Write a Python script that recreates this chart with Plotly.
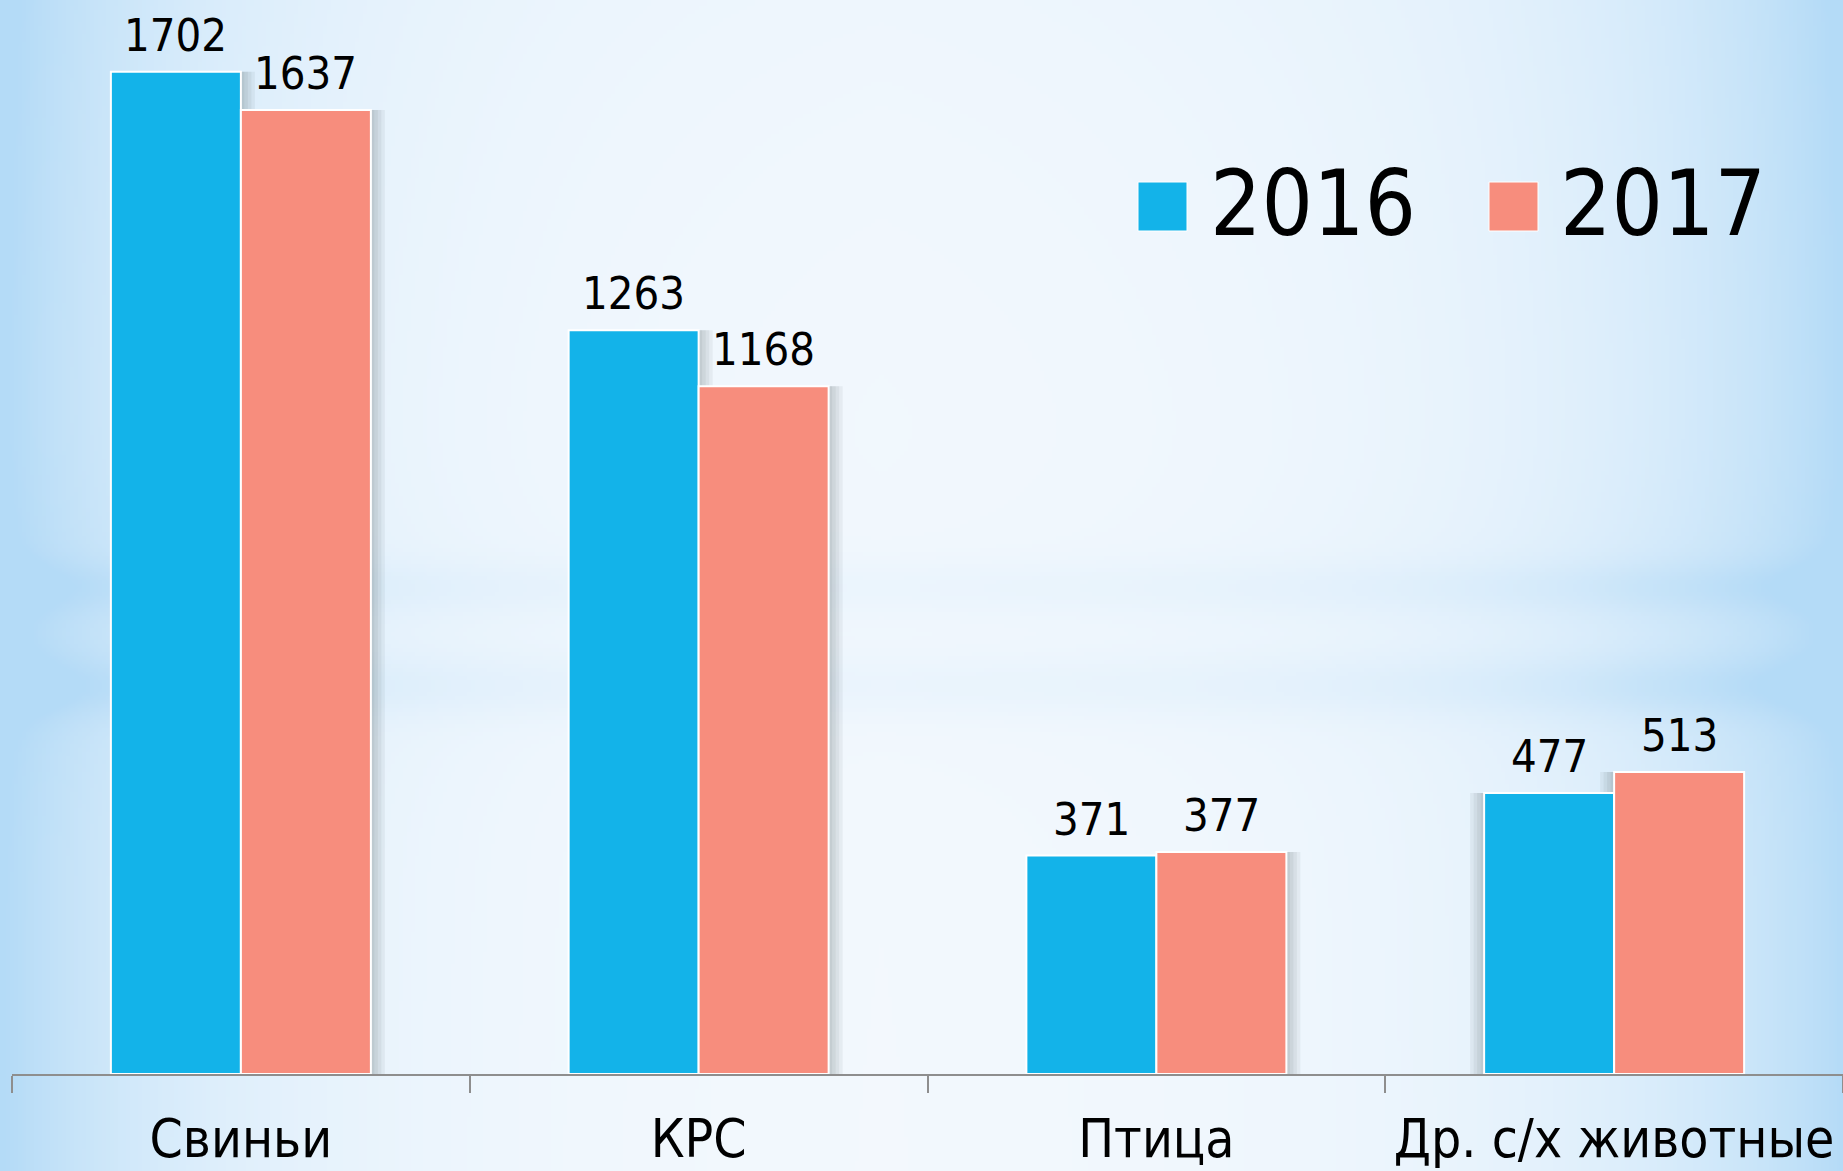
import base64
import struct
import zlib

import numpy as np
import plotly.graph_objects as go

# ---------------- data ----------------
categories = ["Свиньи", "КРС", "Птица", "Др. с/х животные"]
years = ["2016", "2017"]
values_2016 = [1702, 1263, 371, 477]
values_2017 = [1637, 1168, 377, 513]

# ---------------- style ----------------
W, H = 1843, 1171
ML, MR, MT, MB = 12, 0, 0, 97
PW, PH = W - ML - MR, H - MT - MB
CAT_PX = PW / 4.0
BLUE = "#13B3E9"
RED = "#F78D7D"
FONT = "Liberation Sans Narrow, Arial Narrow, DejaVu Sans Condensed, sans-serif"
BAR_PX = 130
BAR_W = BAR_PX / CAT_PX


def png_bytes(arr):
    h, w, _ = arr.shape
    raw = b"".join(b"\x00" + arr[r].tobytes() for r in range(h))

    def chunk(t, d):
        c = struct.pack(">I", len(d)) + t + d
        return c + struct.pack(">I", zlib.crc32(t + d) & 0xFFFFFFFF)

    return (b"\x89PNG\r\n\x1a\n"
            + chunk(b"IHDR", struct.pack(">IIBBBBB", w, h, 8, 2, 0, 0, 0))
            + chunk(b"IDAT", zlib.compress(raw, 9))
            + chunk(b"IEND", b""))


def background():
    s = 4
    w, h = W // s, H // s
    X = (np.arange(w) * s)[None, :].astype(float)
    Y = (np.arange(h) * s)[:, None].astype(float)
    hx = np.maximum(np.exp(-X / 200.0), np.exp(-(W - X) / 220.0))
    hx = hx + 0.07 * np.exp(-Y / 300.0) * np.ones_like(X)
    band = (0.20 * np.exp(-((Y - 583) / 26.0) ** 2)
            + 0.24 * np.exp(-((Y - 683) / 30.0) ** 2)
            + 0.09 * np.exp(-((Y - 630) / 120.0) ** 2))
    band = band * (0.35 + 0.65 * np.minimum(1, hx * 2.5))
    t = np.clip(hx + band, 0, 1)
    white = np.array([244, 249, 254], float)
    blue = np.array([180, 219, 247], float)
    img = white[None, None, :] + (blue - white)[None, None, :] * t[:, :, None]
    return np.clip(img, 0, 255).astype(np.uint8)


bg_uri = "data:image/png;base64," + base64.b64encode(png_bytes(background())).decode()

fig = go.Figure()

# soft shadows (drawn behind bars)
shadow_dir = [1, 1, 1, -1]
for vals, off0 in ((values_2016, -BAR_W), (values_2017, 0.0)):
    for k in range(1, 5):
        dx = k * 3.5 / CAT_PX
        fig.add_trace(go.Bar(
            x=categories, y=vals,
            offset=[off0 + d * dx for d in shadow_dir], width=BAR_W,
            marker=dict(color="rgba(70,80,90,0.07)", line=dict(width=0)),
            hoverinfo="skip", showlegend=False,
        ))

annotations = []
for name, vals, col, off, shift in ((years[0], values_2016, BLUE, -BAR_W, -BAR_PX / 2),
                                    (years[1], values_2017, RED, 0.0, BAR_PX / 2)):
    fig.add_trace(go.Bar(
        name=name, x=categories, y=vals,
        offset=off, width=BAR_W,
        marker=dict(color=col, line=dict(color="white", width=2)),
        cliponaxis=False, showlegend=False,
    ))
    for c, v in zip(categories, vals):
        annotations.append(dict(
            x=c, y=v, xref="x", yref="y", text=str(v), showarrow=False,
            xanchor="center", yanchor="bottom", xshift=shift, yshift=8,
            font=dict(family=FONT, size=45, color="black"),
        ))


# legend (manual, large)
def px_x(p):
    return (p - ML) / PW


def px_y(p):
    return (MT + PH - p) / PH


shapes = []
for name, col, x0, tx in ((years[0], BLUE, 1138, 1208), (years[1], RED, 1489, 1558)):
    shapes.append(dict(type="rect", xref="paper", yref="paper",
                       x0=px_x(x0), x1=px_x(x0 + 49), y0=px_y(231), y1=px_y(182),
                       fillcolor=col, line=dict(color="white", width=1)))
    annotations.append(dict(xref="paper", yref="paper", x=px_x(tx), y=px_y(203),
                            xanchor="left", yanchor="middle", showarrow=False,
                            text=name, font=dict(family=FONT, size=90, color="black")))

fig.update_layout(
    width=W, height=H,
    margin=dict(l=ML, r=MR, t=MT, b=MB, autoexpand=False),
    barmode="overlay",
    paper_bgcolor="white", plot_bgcolor="rgba(0,0,0,0)",
    shapes=shapes, annotations=annotations,
    images=[dict(source=bg_uri, xref="paper", yref="paper",
                 x=-ML / PW, y=1 + MT / PH, sizex=W / PW, sizey=H / PH,
                 xanchor="left", yanchor="top", sizing="stretch", layer="below")],
    xaxis=dict(
        type="category", range=[-0.5, 3.5], automargin=False, tickangle=0,
        showline=True, linecolor="#8e8e8e", linewidth=1.5,
        ticks="outside", tickson="boundaries", ticklen=17, tickwidth=1.5, tickcolor="#8e8e8e",
        tickfont=dict(family=FONT, size=53, color="black"), ticklabelstandoff=18,
        showgrid=False, zeroline=False,
    ),
    yaxis=dict(range=[0, PH / 0.5889], visible=False, showgrid=False, zeroline=False,
               automargin=False),
    font=dict(family=FONT),
)

fig.write_html("out.html")
